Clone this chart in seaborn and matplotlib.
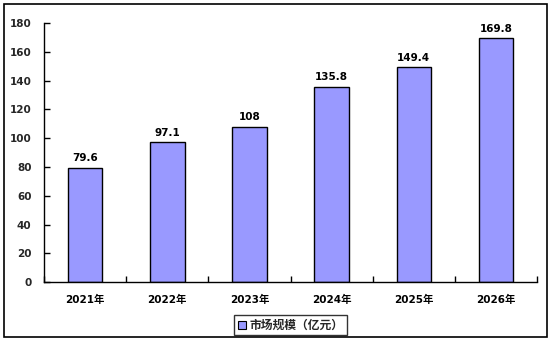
import matplotlib
matplotlib.use("Agg")
import matplotlib.pyplot as plt
import seaborn as sns
import pandas as pd
from matplotlib.patches import Rectangle, Patch

years = ["2021年", "2022年", "2023年", "2024年", "2025年", "2026年"]
values = [79.6, 97.1, 108, 135.8, 149.4, 169.8]
value_labels = ["79.6", "97.1", "108", "135.8", "149.4", "169.8"]
yticks = [0, 20, 40, 60, 80, 100, 120, 140, 160, 180]
legend_label = "市场规模（亿元）"

sns.set_theme(style="white")
plt.rcParams["font.family"] = ["DejaVu Sans", "Noto Sans CJK SC"]
W = "bold"
FS = 7.5

df = pd.DataFrame({"year": years, "value": values})

fig = plt.figure(figsize=(5.54, 3.44), dpi=100)
ax = fig.add_axes([0.0794, 0.180, 0.890, 0.753])

sns.barplot(data=df, x="year", y="value", color="#9999FF", saturation=1,
            edgecolor="black", linewidth=1, width=0.42, ax=ax)

for i, (v, lab) in enumerate(zip(values, value_labels)):
    ax.annotate(lab, (i, v), xytext=(0, 3), textcoords="offset points",
                ha="center", va="bottom", fontsize=FS, fontweight=W, color="black")

ax.set_xlim(-0.5, 5.5)
ax.set_ylim(0, 180)
ax.set_yticks(yticks)
ax.set_yticklabels([str(t) for t in yticks], fontsize=FS, fontweight=W)
ax.set_xticks(range(len(years)))
ax.set_xticklabels(years, fontsize=FS, fontweight=W)
ax.set_xticks([i - 0.5 for i in range(len(years) + 1)], minor=True)
ax.tick_params(axis="x", which="major", length=0, pad=9, colors="black")
ax.tick_params(axis="x", which="minor", direction="in", length=4, width=1, color="black", bottom=True)
ax.tick_params(axis="y", which="major", direction="in", length=4, width=1, color="black", pad=9, left=True)
ax.set_xlabel("")
ax.set_ylabel("")
for s in ["top", "right"]:
    ax.spines[s].set_visible(False)
for s in ["left", "bottom"]:
    ax.spines[s].set_color("black")
    ax.spines[s].set_linewidth(1)

handle = Patch(facecolor="#9999FF", edgecolor="black", linewidth=0.8)
leg = fig.legend([handle], [legend_label], loc="center", bbox_to_anchor=(0.525, 0.054),
                 frameon=True, fancybox=False, handlelength=0.7, handleheight=0.7,
                 handletextpad=0.3, borderpad=0.3,
                 prop={"family": ["Noto Sans CJK SC", "DejaVu Sans"], "weight": W, "size": 8.5})
leg.get_frame().set_edgecolor("black")
leg.get_frame().set_linewidth(1)

fig.patches.append(Rectangle((4 / 554, 1 - 337 / 344), 543 / 554, 333 / 344,
                             transform=fig.transFigure, fill=False, edgecolor="black",
                             linewidth=1.2))

fig.savefig("out.png", dpi=100)
